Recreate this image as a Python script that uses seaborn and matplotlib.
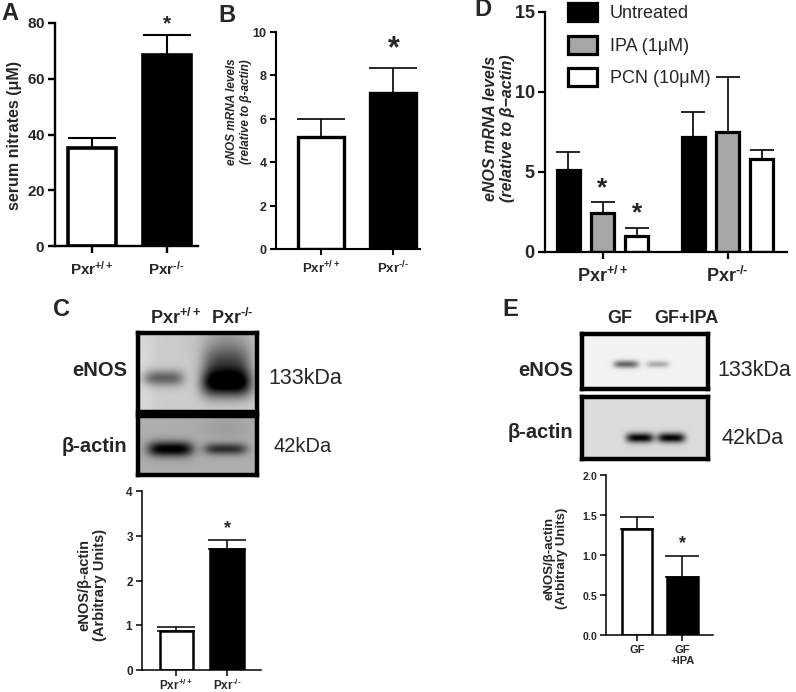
import numpy as np
import pandas as pd
import matplotlib
matplotlib.use("Agg")
import matplotlib.pyplot as plt
from matplotlib.patches import Patch
import seaborn as sns

# ---------------- data ----------------
geno = [r"Pxr$^{+/+}$", r"Pxr$^{\text{-/-}}$"]

a_vals = [35.3, 68.6]
a_err = [3.3, 7.2]
a_ticks = [0, 20, 40, 60, 80]

b_vals = [5.17, 7.2]
b_err = [0.8, 1.15]
b_ticks = [0, 2, 4, 6, 8, 10]

c_vals = [0.87, 2.70]
c_err = [0.10, 0.21]
c_ticks = [0, 1, 2, 3, 4]

d_treat = ["Untreated", "IPA (1μM)", "PCN (10μM)"]
d_untreated = [5.15, 7.19]
d_ipa = [2.42, 7.52]
d_pcn = [0.97, 5.84]
d_untreated_err = [1.1, 1.57]
d_ipa_err = [0.68, 3.4]
d_pcn_err = [0.53, 0.54]
d_ticks = [0, 5, 10, 15]

e_labels = ["GF", "GF\n+IPA"]
e_vals = [1.33, 0.73]
e_err = [0.14, 0.26]
e_ticks = [0.0, 0.5, 1.0, 1.5, 2.0]

# ---------------- style ----------------
sns.set_style("ticks")
plt.rcParams["font.family"] = ["Liberation Sans", "DejaVu Sans"]
plt.rcParams["font.weight"] = "bold"
plt.rcParams["mathtext.fontset"] = "custom"
plt.rcParams["mathtext.rm"] = "Liberation Sans:bold"
plt.rcParams["mathtext.bf"] = "Liberation Sans:bold"
plt.rcParams["mathtext.it"] = "Liberation Sans:bold:italic"
plt.rcParams["mathtext.default"] = "bf"

W, H = 796, 692
fig = plt.figure(figsize=(W / 100, H / 100), dpi=100)


def ax_px(x0, y0, x1, y1):
    return fig.add_axes([x0 / W, 1 - y1 / H, (x1 - x0) / W, (y1 - y0) / H])


def ftext(x, y, s, **kw):
    fig.text(x / W, 1 - y / H, s, **kw)


def style_axes(ax, spine_lw, tick_fs, tick_len=5):
    for s in ["top", "right"]:
        ax.spines[s].set_visible(False)
    for s in ["left", "bottom"]:
        ax.spines[s].set_linewidth(spine_lw)
        ax.spines[s].set_color("black")
    ax.tick_params(axis="both", width=spine_lw, length=tick_len, color="black",
                   labelsize=tick_fs, direction="out", pad=2)
    ax.set_xlabel("")
    ax.set_ylabel("")
    ax.patch.set_alpha(0)


def set_yt(ax, ticks, fmt="{:g}"):
    ax.set_yticks(ticks)
    ax.set_yticklabels(["$\\mathbf{" + fmt.format(t) + "}$" for t in ticks])


def two_bar(ax, labels, vals, errs, width, edge_lw, cap, elw):
    sns.barplot(x=labels, y=vals, hue=labels, palette=["white", "black"],
                legend=False, width=width, errorbar=None, edgecolor="black",
                linewidth=edge_lw, ax=ax, saturation=1)
    ax.errorbar(np.arange(len(vals)), vals, yerr=[np.zeros(len(vals)), errs],
                fmt="none", ecolor="black", elinewidth=elw, capsize=cap,
                capthick=elw, clip_on=False, zorder=1)


# ---------------- Panel A ----------------
axA = ax_px(55, 23, 198, 246)
two_bar(axA, geno, a_vals, a_err, 0.64, 2.6, 17, 1.5)
axA.set_ylim(0, 80)
set_yt(axA, a_ticks)
axA.set_xlim(-0.497, 1.42)
style_axes(axA, 1.7, 11, 5)
axA.tick_params(axis="x", labelsize=11, pad=5)
axA.text(1, a_vals[1] + a_err[1] + 0.5, "*", ha="center", va="bottom",
         fontsize=15, fontweight="bold")
ftext(15, 135, "serum nitrates (μM)", rotation=90, ha="center", va="center",
      fontsize=11.5, fontweight="bold")

# ---------------- Panel B ----------------
axB = ax_px(276, 32, 420, 249)
two_bar(axB, geno, b_vals, b_err, 0.64, 2.4, 17, 1.2)
axB.set_ylim(0, 10)
set_yt(axB, b_ticks)
axB.set_xlim(-0.632, 1.37)
style_axes(axB, 1.5, 9, 4)
axB.tick_params(axis="x", labelsize=9.5, pad=4)
axB.text(1, b_vals[1] + b_err[1] + 0.15, "*", ha="center", va="bottom",
         fontsize=22, fontweight="bold")
ftext(239, 112, "eNOS mRNA levels\n(relative to β-actin)", rotation=90,
      ha="center", va="center", fontsize=8.5, fontweight="bold",
      fontstyle="italic", linespacing=1.15)

# ---------------- Panel D ----------------
axD = ax_px(545, 12, 787, 252)
dfD = pd.DataFrame({
    "genotype": geno * 3,
    "treatment": [d_treat[0]] * 2 + [d_treat[1]] * 2 + [d_treat[2]] * 2,
    "value": d_untreated + d_ipa + d_pcn,
})
d_errs = d_untreated_err + d_ipa_err + d_pcn_err
sns.barplot(data=dfD, x="genotype", y="value", hue="treatment",
            palette=["black", "#a6a6a6", "white"], width=0.825, gap=0.335,
            errorbar=None, edgecolor="black", linewidth=2.3, legend=False,
            ax=axD, saturation=1)
bars = [p for p in axD.patches]
xs = [p.get_x() + p.get_width() / 2 for p in bars]
hs = [p.get_height() for p in bars]
axD.errorbar(xs, hs, yerr=[np.zeros(len(hs)), d_errs], fmt="none",
             ecolor="black", elinewidth=1.2, capsize=8.5, capthick=1.2,
             clip_on=False, zorder=1)
for i in [2, 4]:  # IPA and PCN in Pxr+/+
    axD.text(xs[i], hs[i] + d_errs[i] + 0.15, "*", ha="center", va="bottom",
             fontsize=19, fontweight="bold")
axD.set_ylim(0, 15)
set_yt(axD, d_ticks)
axD.set_xlim(-0.46, 1.476)
style_axes(axD, 1.6, 13, 5)
axD.tick_params(axis="x", labelsize=13, pad=5)
ftext(499, 128, "eNOS mRNA levels\n(relative to β−actin)", rotation=90,
      ha="center", va="center", fontsize=11.5, fontweight="bold",
      fontstyle="italic", linespacing=1.1)
handles = [Patch(facecolor=c, edgecolor="black", linewidth=2.3)
           for c in ["black", "#a6a6a6", "white"]]
leg = fig.legend(handles, d_treat, loc="upper left",
                 bbox_to_anchor=(568 / W, 1 - 3 / H), frameon=False,
                 fontsize=13, handlelength=1.6, handleheight=1.15,
                 handletextpad=0.7, labelspacing=0.75, borderpad=0,
                 borderaxespad=0)
for t in leg.get_texts():
    t.set_fontweight("normal")


# ---------------- Blots ----------------
def blot(ax, bg, bands, ny=120, nx=240):
    yy, xx = np.mgrid[0:1:ny * 1j, 0:1:nx * 1j]
    img = np.full((ny, nx), bg, dtype=float)
    for cx, cy, sx, sy, dark, pw in bands:
        img -= dark * np.exp(-np.abs((xx - cx) / sx) ** pw
                             - ((yy - cy) / sy) ** 2)
    img = np.clip(img, 0, 1)
    ax.imshow(img, cmap="gray", vmin=0, vmax=1, aspect="auto",
              extent=(0, 1, 1, 0), interpolation="bilinear")
    ax.set_xticks([])
    ax.set_yticks([])
    for s in ax.spines.values():
        s.set_linewidth(3.2)
        s.set_color("black")


axC1 = ax_px(138, 333, 257, 412)
blot(axC1, 0.80, [
    (0.75, 0.15, 0.22, 0.35, 0.20, 2),
    (0.21, 0.57, 0.17, 0.10, 0.42, 4),
    (0.74, 0.64, 0.21, 0.17, 0.85, 4),
    (0.74, 0.40, 0.20, 0.22, 0.38, 4),
    (0.05, 0.5, 0.08, 1.0, -0.05, 2),
])
axC2 = ax_px(138, 416, 257, 475)
blot(axC2, 0.68, [
    (0.27, 0.56, 0.19, 0.13, 0.72, 4),
    (0.73, 0.56, 0.18, 0.10, 0.50, 4),
    (0.73, 0.2, 0.2, 0.2, 0.06, 2),
])
ftext(176, 318, r"Pxr$^{+/+}$", ha="center", va="center", fontsize=13,
      fontweight="bold")
ftext(232, 318, r"Pxr$^{\text{-/-}}$", ha="center", va="center", fontsize=13,
      fontweight="bold")
ftext(127, 370, "eNOS", ha="right", va="center", fontsize=14.5, fontweight="bold")
ftext(127, 447, "β-actin", ha="right", va="center", fontsize=14.5,
      fontweight="bold")
ftext(268, 378, "133kDa", ha="left", va="center", fontsize=15.5,
      fontweight="normal")
ftext(273, 447, "42kDa", ha="left", va="center", fontsize=14.5,
      fontweight="normal")

axE1 = ax_px(582, 334, 708, 389)
blot(axE1, 0.95, [
    (0.35, 0.55, 0.10, 0.07, 0.55, 4),
    (0.60, 0.55, 0.09, 0.06, 0.28, 4),
])
axE2 = ax_px(582, 397, 708, 459)
blot(axE2, 0.86, [
    (0.46, 0.66, 0.11, 0.08, 0.85, 4),
    (0.71, 0.66, 0.11, 0.08, 0.85, 4),
])
ftext(620, 318, "GF", ha="center", va="center", fontsize=13, fontweight="bold")
ftext(686, 318, "GF+IPA", ha="center", va="center", fontsize=13,
      fontweight="bold")
ftext(573, 370, "eNOS", ha="right", va="center", fontsize=14.5, fontweight="bold")
ftext(573, 432, "β-actin", ha="right", va="center", fontsize=14.5,
      fontweight="bold")
ftext(717, 370, "133kDa", ha="left", va="center", fontsize=15.5,
      fontweight="normal")
ftext(722, 438, "42kDa", ha="left", va="center", fontsize=15.5,
      fontweight="normal")

# ---------------- Panel C bar ----------------
axC = ax_px(142, 491, 261, 670)
two_bar(axC, geno, c_vals, c_err, 0.67, 1.8, 14, 1.1)
axC.set_ylim(0, 4)
set_yt(axC, c_ticks)
axC.set_xlim(-0.683, 1.673)
style_axes(axC, 1.1, 8.5, 4)
axC.tick_params(axis="x", labelsize=8.5, pad=1.5)
axC.text(1, c_vals[1] + c_err[1] + 0.05, "*", ha="center", va="bottom",
         fontsize=13, fontweight="bold")
ftext(92, 585, "eNOS/β-actin\n(Arbitrary Units)", rotation=90, ha="center",
      va="center", fontsize=10.5, fontweight="bold", linespacing=1.1)

# ---------------- Panel E bar ----------------
axE = ax_px(606, 475, 713, 635)
two_bar(axE, e_labels, e_vals, e_err, 0.66, 1.8, 12, 1.1)
axE.set_ylim(0, 2.0)
set_yt(axE, e_ticks, "{:.1f}")
axE.set_xlim(-0.68, 1.67)
style_axes(axE, 1.1, 7.5, 4)
axE.tick_params(axis="x", labelsize=8, pad=3)
axE.text(1, e_vals[1] + e_err[1] + 0.05, "*", ha="center", va="bottom",
         fontsize=13, fontweight="bold")
ftext(556, 558, "eNOS/β-actin\n(Arbitrary Units)", rotation=90, ha="center",
      va="center", fontsize=9.5, fontweight="bold", linespacing=1.1)

# ---------------- Panel letters ----------------
for s, x, y in [("A", 10, 13), ("B", 227, 15), ("C", 61, 310), ("D", 483, 10),
                ("E", 510, 310)]:
    ftext(x, y, s, ha="center", va="center", fontsize=17, fontweight="bold")

fig.savefig("out.png", dpi=100)
